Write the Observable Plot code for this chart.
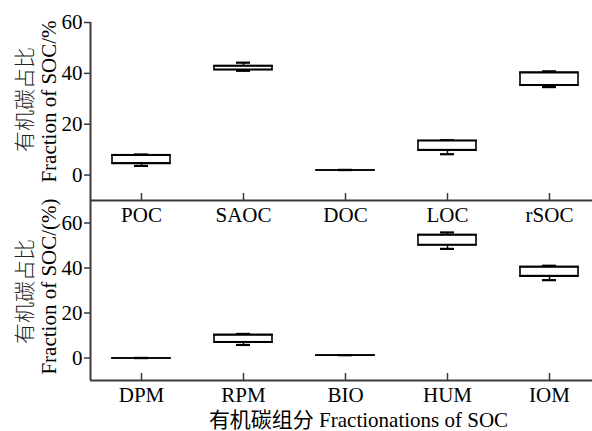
<!DOCTYPE html>
<html>
<head>
<meta charset="utf-8">
<script src="https://cdn.jsdelivr.net/npm/d3@7"></script>
<script src="https://cdn.jsdelivr.net/npm/@observablehq/plot@0.6"></script>
<style>
  html, body { margin: 0; padding: 0; background: #fff; overflow: hidden; }
  #wrap { position: relative; width: 592px; height: 431px; }
  #wrap svg { position: absolute; left: 0; background: transparent; max-width: none; }
</style>
</head>
<body>
<div id="wrap"></div>
<script>
// ---- data ----
const topCats = ["POC", "SAOC", "DOC", "LOC", "rSOC"];
const topMin  = [3.6, 41.0, 2.0, 8.2, 34.6];
const topQ1   = [4.6, 41.4, 2.0, 9.8, 35.3];
const topQ3   = [7.8, 42.9, 2.0, 13.5, 40.3];
const topMax  = [8.1, 44.2, 2.0, 13.7, 40.8];
const topTicks = [0, 20, 40, 60];

const botCats = ["DPM", "RPM", "BIO", "HUM", "IOM"];
const botMin  = [0, 5.8, 1.3, 48.5, 34.6];
const botQ1   = [0, 7.0, 1.3, 50.2, 36.4];
const botQ3   = [0, 10.3, 1.3, 54.7, 40.5];
const botMax  = [0, 10.7, 1.3, 55.8, 41.0];
const botTicks = [0, 20, 40, 60];

const yLabelCN = "有机碳占比";
const yLabelTop = "Fraction of SOC/%";
const yLabelBot = "Fraction of SOC/(%)";
const xTitle = "有机碳组分 Fractionations of SOC";

const FONT = "'Liberation Serif', 'Times New Roman', 'Noto Sans CJK SC', serif";
const FS = 21;
const AXIS = "#3a3a3a";
const W = 592, ML = 90, XR = [90, 600];
const band = (XR[1] - XR[0]) / 5;
const boxInset = (band - 58) / 2;
const capInset = (band - 14) / 2;

function panel({cats, mn, q1, q3, mx, ticks, domain, height, marginTop, marginBottom, yLab, xLabel}) {
  const rows = cats.map((c, i) => ({c, mn: mn[i], q1: q1[i], q3: q3[i], mx: mx[i]}));
  const frameH = height - marginTop - marginBottom;
  const unitPx = frameH / (domain[1] - domain[0]);
  const marks = [
    Plot.ruleX(rows, {x: "c", y1: "mn", y2: "mx", stroke: "#000", strokeWidth: 1.5}),
    Plot.tickY(rows, {x: "c", y: "mx", stroke: "#000", strokeWidth: 2.2, inset: capInset}),
    Plot.tickY(rows, {x: "c", y: "mn", stroke: "#000", strokeWidth: 2.2, inset: capInset}),
    Plot.rectY(rows, {x: "c", y1: "q1", y2: "q3", fill: "#fff", stroke: "#000", strokeWidth: 1.6, insetLeft: boxInset, insetRight: boxInset}),
    Plot.tickY(rows, {x: "c", y: "q1", stroke: "#000", strokeWidth: 1.6, inset: boxInset - 0.8}),
    Plot.tickY(rows, {x: "c", y: "q3", stroke: "#000", strokeWidth: 1.6, inset: boxInset - 0.8}),
    Plot.ruleY([domain[0]], {stroke: AXIS, strokeWidth: 2}),
    Plot.ruleX([cats[0]], {y1: domain[0], y2: domain[1], dx: -band / 2, stroke: AXIS, strokeWidth: 2}),
    Plot.ruleX(cats, {x: d => d, y1: domain[0], y2: domain[0] + 7 / unitPx, stroke: AXIS, strokeWidth: 1.5}),
    Plot.axisX({tickSize: 0, tickPadding: 7, fontSize: FS, fill: "#000", label: null}),
    Plot.axisY({ticks, tickSize: 6, tickPadding: 2, fontSize: FS, fill: "#000", stroke: AXIS, strokeWidth: 1.5, label: null}),
    Plot.text([yLabelCN], {frameAnchor: "left", textAnchor: "middle", lineAnchor: "middle", dx: -65, dy: yLab.dyCN, rotate: -90, fontSize: FS, fill: "#222", fontFamily: "'Noto Sans CJK SC', sans-serif", fontWeight: 300}),
    Plot.text([yLab.en], {frameAnchor: "left", textAnchor: "middle", lineAnchor: "middle", dx: -41, dy: yLab.dyEN, rotate: -90, fontSize: FS, fill: "#000"})
  ];
  if (xLabel) {
    marks.push(Plot.text([xLabel], {frameAnchor: "bottom", textAnchor: "middle", lineAnchor: "middle", dx: 17, dy: 40, fontSize: FS, fill: "#000"}));
  }
  return Plot.plot({
    width: W, height, marginLeft: ML, marginRight: 0, marginTop, marginBottom,
    style: {fontFamily: FONT, background: "transparent", overflow: "visible"},
    x: {type: "band", domain: cats, range: XR, padding: 0},
    y: {domain, ticks},
    marks
  });
}

const topPanel = panel({cats: topCats, mn: topMin, q1: topQ1, q3: topQ3, mx: topMax, ticks: topTicks,
  domain: [-10, 60], height: 226, marginTop: 22, marginBottom: 26,
  yLab: {en: yLabelTop, dyCN: -12, dyEN: -10}});
const botPanel = panel({cats: botCats, mn: botMin, q1: botQ1, q3: botQ3, mx: botMax, ticks: botTicks,
  domain: [-10, 70], height: 251, marginTop: 20, marginBottom: 51,
  yLab: {en: yLabelBot, dyCN: 1, dyEN: -4}, xLabel: xTitle});

topPanel.style.top = "0px";
botPanel.style.top = "180px";
const wrap = document.getElementById("wrap");
wrap.appendChild(topPanel);
wrap.appendChild(botPanel);
</script>
</body>
</html>
